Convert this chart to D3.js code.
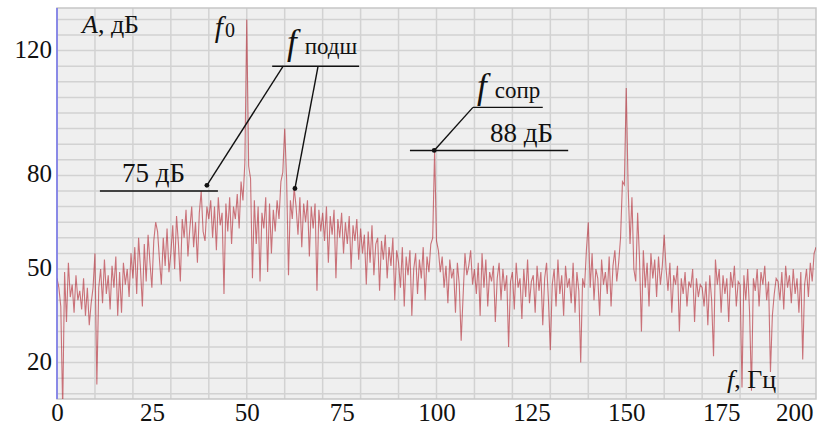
<!DOCTYPE html>
<html><head><meta charset="utf-8">
<script src="https://cdn.jsdelivr.net/npm/d3@7"></script>
<style>
body{margin:0;background:#fff}
svg{display:block}
text{font-family:"Liberation Serif","Times New Roman",serif;fill:#111}
</style>
</head><body>
<svg id="c" width="817" height="428"></svg>
<script>
// ---- data ----
const fStep = 0.5; // Hz between samples
// amplitude, dB : 0 – 49.5 Hz
const ampA = [47,44,38,5,49,33,52,41,45,36,48,40,43,37,47,35,44,32,39,44,
  55,13,44,50,39,53,42,48,37,51,44,54,35,49,36,52,45,50,41,55,
  47,57,42,60,50,38,58,46,61,52,44,59,65,62,53,45,60,51,63,49,
  55,64,50,67,58,46,66,60,69,54,63,70,57,65,52,68,75,62,59,70,
  66,72,60,70,56,73,64,68,42,71,62,73,58,70,66,74,63,78,72,84];
// 50 – 99.5 Hz
const ampB = [130,83,79,47,72,58,70,46,68,63,73,49,71,55,69,62,72,66,78,81,
  95,79,48,72,66,76,70,61,73,57,71,65,72,54,70,63,71,43,69,62,
  68,59,70,52,67,61,69,47,66,60,68,55,65,58,67,50,64,59,66,53,
  63,55,61,45,62,52,64,48,58,60,43,59,53,61,47,57,51,60,40,56,
  52,44,57,38,54,48,56,35,50,55,42,53,47,57,40,54,49,58,60,88];
// 100 – 149.5 Hz
const ampC = [59,56,49,54,44,51,39,53,47,50,36,52,45,27,41,55,48,51,56,45,
  50,42,52,35,55,44,53,38,49,46,51,33,47,52,40,50,43,48,25,46,
  49,37,52,44,47,34,50,41,53,39,46,48,36,51,43,49,32,47,52,40,
  24,45,50,38,53,42,48,35,51,44,47,39,52,36,49,43,20,47,44,56,
  65,44,55,40,50,47,35,53,45,49,42,54,38,51,56,46,52,60,78,77];
// 150 – 200 Hz
const ampD = [108,76,58,73,50,46,68,53,30,56,44,52,38,55,47,53,41,54,45,51,
  61,50,43,52,36,48,45,51,30,47,42,49,38,46,44,50,33,47,41,45,
  44,38,46,32,48,40,22,53,45,50,36,48,42,47,33,49,44,51,38,46,
  45,12,48,40,50,36,11,47,43,50,38,49,45,51,40,46,17,35,42,47,
  46,40,49,37,51,44,48,39,50,42,47,36,49,21,45,50,41,52,46,55,57];

const xTicks = [0,25,50,75,100,125,150,175,200];
const yTicks = [20,50,80,120];
const xGridStep = 10, yGridStep = 5;

// annotations (data units: Hz, dB)
const markers = [{f:39.5,db:76.8},{f:62.7,db:75.8},{f:99.4,db:88}];
const levelLines = [
  {label:"75 дБ", db:75, f1:11.3, f2:42.4, tf:17.1, tdb:77.9},
  {label:"88 дБ", db:88, f1:93.0, f2:134.7, tf:114.1, tdb:90.7}
];
const bars = [
  {name:"подш", db:115, f1:56.7, f2:79.6, tf:60.6, tdb:118.9},
  {name:"сопр", db:101.8, f1:109.6, f2:128.0, tf:110.7, tdb:104.8}
];
const leaders = [
  {from:0, f:59.6, db:115},
  {from:1, f:68.8, db:115},
  {from:2, f:109.6, db:101.8}
];

// ---- drawing ----
const svg = d3.select("#c");
const L = 57, R = 816, T = 8, B = 399;
const x = d3.scaleLinear().domain([0,200]).range([L,R]);
const y = d3.scaleLinear().domain([8.33,133.65]).range([B,T]);

svg.append("rect").attr("x",L).attr("y",T).attr("width",R-L).attr("height",B-T)
  .attr("fill","#efefef");

const grid = svg.append("g").attr("stroke","#d2d2d2").attr("stroke-width",1.5);
grid.selectAll("line.v").data(d3.range(xGridStep,200,xGridStep)).join("line")
  .attr("x1",d=>x(d)).attr("x2",d=>x(d)).attr("y1",T).attr("y2",B);
grid.selectAll("line.h").data(d3.range(10,133,yGridStep)).join("line")
  .attr("x1",L).attr("x2",R).attr("y1",d=>y(d)).attr("y2",d=>y(d));

svg.append("rect").attr("x",L).attr("y",T).attr("width",R-L).attr("height",B-T)
  .attr("fill","none").attr("stroke","#c6c6c6").attr("stroke-width",1.5);

svg.append("clipPath").attr("id","clip").append("rect")
  .attr("x",L).attr("y",T).attr("width",R-L).attr("height",B-T);

const amps = ampA.concat(ampB, ampC, ampD);
const series = amps.map((a,i)=>({f:i*fStep, a}));
const line = d3.line().x(d=>x(d.f)).y(d=>y(d.a));
svg.append("path").datum(series).attr("clip-path","url(#clip)")
  .attr("d",line).attr("fill","none")
  .attr("stroke","#b01e29").attr("stroke-opacity",0.6).attr("stroke-width",1.1);

// left axis line (blue)
svg.append("line").attr("x1",L).attr("x2",L).attr("y1",T).attr("y2",B)
  .attr("stroke","#7272ee").attr("stroke-width",1.5);

// axes
const xa = svg.append("g").attr("transform",`translate(0,${B})`)
  .call(d3.axisBottom(x).tickValues(xTicks).tickSize(0).tickPadding(4));
xa.select(".domain").remove();
xa.selectAll("text").style("font-size","25px").attr("fill","#111")
  .style("font-family",'"Liberation Serif","Times New Roman",serif');
xa.selectAll(".tick").filter(d=>d===200).select("text").attr("text-anchor","end").attr("dx","-3");

const ya = svg.append("g").attr("transform",`translate(${L},0)`)
  .call(d3.axisLeft(y).tickValues(yTicks).tickSize(0).tickPadding(5));
ya.select(".domain").remove();
ya.selectAll("text").style("font-size","25px").attr("fill","#111").attr("dy","0.26em")
  .style("font-family",'"Liberation Serif","Times New Roman",serif');

// axis titles
const at = svg.append("text").attr("x",82).attr("y",33).style("font-size","26px");
at.append("tspan").style("font-style","italic").text("A");
at.append("tspan").text(", дБ");
const ft = svg.append("text").attr("x",727).attr("y",388).style("font-size","26px");
ft.append("tspan").style("font-style","italic").text("f");
ft.append("tspan").text(", Гц");

// f0
const f0 = svg.append("text").attr("x",x(41.6)).attr("y",y(124.3));
f0.append("tspan").style("font-style","italic").style("font-size","29px").text("f");
f0.append("tspan").style("font-size","20px").attr("dx",2).text("0");

// annotation lines
const ann = svg.append("g").attr("stroke","#111").attr("stroke-width",1.4).attr("fill","none");
levelLines.forEach(l=>{
  ann.append("line").attr("x1",x(l.f1)).attr("x2",x(l.f2)).attr("y1",y(l.db)).attr("y2",y(l.db));
  svg.append("text").attr("x",x(l.tf)).attr("y",y(l.tdb)).style("font-size","27px").text(l.label);
});
bars.forEach(b=>{
  ann.append("line").attr("x1",x(b.f1)).attr("x2",x(b.f2)).attr("y1",y(b.db)).attr("y2",y(b.db));
  const t = svg.append("text").attr("x",x(b.tf)).attr("y",y(b.tdb));
  t.append("tspan").style("font-style","italic").style("font-size","35px").text("f");
  t.append("tspan").attr("dx",8).style("font-size","23px").text(b.name);
});
leaders.forEach(l=>{
  const m = markers[l.from];
  ann.append("line").attr("x1",x(m.f)).attr("y1",y(m.db)).attr("x2",x(l.f)).attr("y2",y(l.db));
});
svg.selectAll("circle.m").data(markers).join("circle")
  .attr("cx",d=>x(d.f)).attr("cy",d=>y(d.db)).attr("r",2.4).attr("fill","#111");
</script>
</body></html>
